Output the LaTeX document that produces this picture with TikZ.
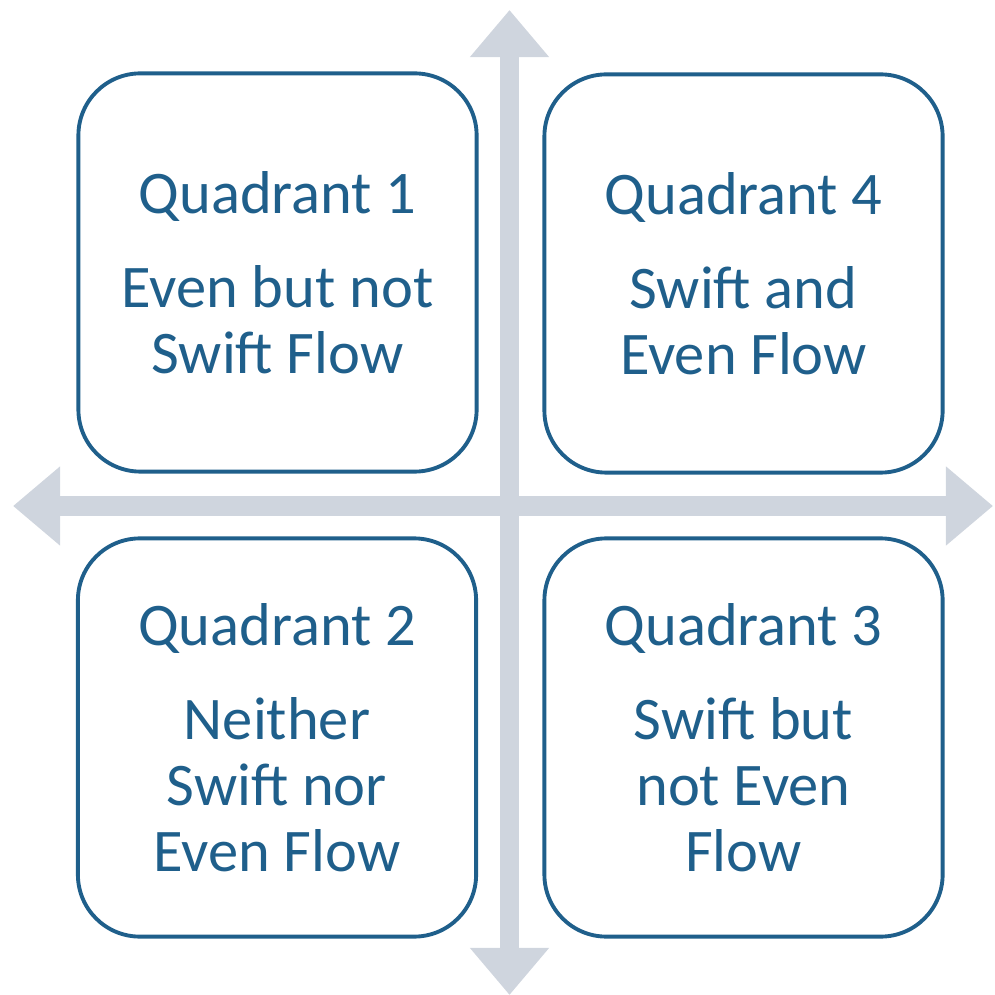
\documentclass[tikz,border=0pt]{standalone}
\usepackage{fontspec}
\setmainfont{Carlito}
\usepackage{xcolor}
\usepackage{tikz}
\usetikzlibrary{arrows.meta}

\definecolor{quadblue}{HTML}{1F5F8B}
\definecolor{axisgray}{HTML}{CFD5DE}

\begin{document}
\begin{tikzpicture}[x=0.01cm,y=-0.01cm,
		axis/.style={draw=axisgray,line width=0.19cm,
			{Triangle[width=0.76cm,length=0.47cm]}-{Triangle[width=0.76cm,length=0.47cm]}},
		quad/.style={draw=quadblue,line width=1.1pt,rounded corners=0.62cm,fill=white,
			minimum width=3.98cm,minimum height=3.98cm,align=center,text=quadblue,
			font=\fontsize{17.2}{18.8}\selectfont}]
		\useasboundingbox (0,0) rectangle (994,995);
		\coordinate (top) at (509.5,10);
		\coordinate (bottom) at (509.5,995);
		\coordinate (left) at (13,506);
		\coordinate (right) at (993,506);
		\draw[axis] (bottom) -- (top);
		\draw[axis] (left) -- (right);
		\node[quad] (q1) at (277.5,272.5) {Quadrant 1\\[0.28cm]Even but not\\Swift Flow};
		\node[quad] (q4) at (743.5,273.5) {Quadrant 4\\[0.28cm]Swift and\\Even Flow};
		\node[quad] (q2) at (277,737.5) {Quadrant 2\\[0.28cm]Neither\\Swift nor\\Even Flow};
		\node[quad] (q3) at (743.5,737.5) {Quadrant 3\\[0.28cm]Swift but\\not Even\\Flow};
	\end{tikzpicture}
\end{document}
